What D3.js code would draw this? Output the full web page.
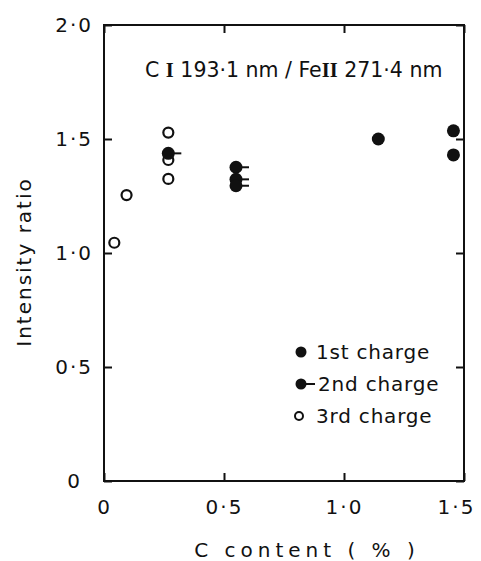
<!DOCTYPE html>
<html>
<head>
<meta charset="utf-8">
<script src="https://cdn.jsdelivr.net/npm/d3@7"></script>
<style>
  body { margin: 0; background: #fff; }
  text { font-family: "DejaVu Sans", sans-serif; fill: #111; }
</style>
</head>
<body>
<div id="chart"></div>
<script>
// data
var firstX = [1.143, 1.456, 1.456];
var firstY = [1.50, 1.536, 1.43];
var secondX = [0.268, 0.55, 0.55, 0.55];
var secondY = [1.437, 1.376, 1.323, 1.295];
var thirdX = [0.043, 0.094, 0.268, 0.268, 0.268];
var thirdY = [1.045, 1.254, 1.528, 1.408, 1.325];
var xTicks = [0, 0.5, 1.0, 1.5];
var yTicks = [0, 0.5, 1.0, 1.5, 2.0];
var legendLabels = ["1st charge", "2nd charge", "3rd charge"];

var W = 481, H = 561;
var margin = {top: 25, right: 17, bottom: 80, left: 104};
var w = W - margin.left - margin.right;
var h = H - margin.top - margin.bottom;

var svg = d3.select("#chart").append("svg")
    .attr("width", W)
    .attr("height", H);

var g = svg.append("g")
    .attr("transform", "translate(" + margin.left + "," + margin.top + ")");

var x = d3.scaleLinear().domain([0, 1.5]).range([0, w]);
var y = d3.scaleLinear().domain([0, 2.0]).range([h, 0]);

function fmt(d) {
  return d === 0 ? "0" : d.toFixed(1).replace(".", "\u00b7");
}

// frame
g.append("rect")
  .attr("width", w).attr("height", h)
  .attr("fill", "none").attr("stroke", "#111").attr("stroke-width", 2);

// axes, ticks pointing inwards
var xAxis = g.append("g")
  .attr("transform", "translate(0," + h + ")")
  .call(d3.axisBottom(x).tickValues(xTicks).tickSize(-8).tickPadding(19).tickFormat(fmt));
var yAxis = g.append("g")
  .call(d3.axisLeft(y).tickValues(yTicks).tickSize(-8).tickPadding(11).tickFormat(fmt));
g.append("g")
  .attr("transform", "translate(" + w + ",0)")
  .call(d3.axisRight(y).tickValues(yTicks).tickSize(-8).tickFormat(""));
g.append("g")
  .call(d3.axisTop(x).tickValues(xTicks).tickSize(-8).tickFormat(""));

g.selectAll(".domain").remove();
g.selectAll(".tick line").attr("stroke", "#111").attr("stroke-width", 2);
g.selectAll(".tick text")
  .style("font-family", "'DejaVu Sans', sans-serif")
  .style("font-size", "20px")
  .style("letter-spacing", "2px")
  .attr("fill", "#111");
yAxis.selectAll(".tick text").filter(function(d) { return d === 0; }).attr("x", -22);
xAxis.selectAll(".tick text").filter(function(d) { return d === 1.5; }).attr("x", -8);

// axis titles
svg.append("text")
  .attr("x", 307).attr("y", 557)
  .attr("text-anchor", "middle")
  .style("font-size", "20px")
  .style("letter-spacing", "5px")
  .text("C  content  ( % )");

svg.append("text")
  .attr("transform", "translate(31,262) rotate(-90)")
  .attr("text-anchor", "middle")
  .style("font-size", "20px")
  .style("letter-spacing", "2px")
  .text("Intensity ratio");

// title
var title = svg.append("text")
  .attr("x", 145).attr("y", 77)
  .style("font-size", "20.5px");
title.append("tspan").text("C ");
title.append("tspan").style("font-family", "'Liberation Serif', serif").style("font-weight", "bold").text("I");
title.append("tspan").text(" 193\u00b71 nm / Fe");
title.append("tspan").style("font-family", "'Liberation Serif', serif").style("font-weight", "bold").text("II");
title.append("tspan").text(" 271\u00b74 nm");

// points
var third = d3.zip(thirdX, thirdY);
var first = d3.zip(firstX, firstY);
var second = d3.zip(secondX, secondY);

g.selectAll(".third").data(third).enter().append("circle")
  .attr("class", "third")
  .attr("cx", function(d) { return x(d[0]); })
  .attr("cy", function(d) { return y(d[1]); })
  .attr("r", 5)
  .attr("fill", "#fff").attr("stroke", "#111").attr("stroke-width", 2.2);

g.selectAll(".first").data(first).enter().append("circle")
  .attr("class", "first")
  .attr("cx", function(d) { return x(d[0]); })
  .attr("cy", function(d) { return y(d[1]); })
  .attr("r", 6.5)
  .attr("fill", "#111");

var sec = g.selectAll(".second").data(second).enter().append("g")
  .attr("class", "second")
  .attr("transform", function(d) { return "translate(" + x(d[0]) + "," + y(d[1]) + ")"; });
sec.append("line")
  .attr("x1", 0).attr("x2", 13)
  .attr("stroke", "#111").attr("stroke-width", 2);
sec.append("circle").attr("r", 6.5).attr("fill", "#111");

// legend
var leg = svg.append("g").attr("transform", "translate(301,352)");
var rows = leg.selectAll("g").data(legendLabels).enter().append("g")
  .attr("transform", function(d, i) { return "translate(0," + (i * 32) + ")"; });
rows.each(function(d, i) {
  var r = d3.select(this);
  if (i === 1) {
    r.append("line").attr("x1", 0).attr("x2", 14).attr("stroke", "#111").attr("stroke-width", 2);
  }
  if (i < 2) {
    r.append("circle").attr("r", 5.5).attr("fill", "#111");
  } else {
    r.append("circle").attr("cx", -2).attr("r", 4).attr("fill", "#fff")
      .attr("stroke", "#111").attr("stroke-width", 2);
  }
  r.append("text")
    .attr("x", i === 1 ? 17 : 15).attr("y", 7)
    .style("font-size", "20px")
    .style("letter-spacing", "0.8px")
    .text(d);
});
</script>
</body>
</html>
